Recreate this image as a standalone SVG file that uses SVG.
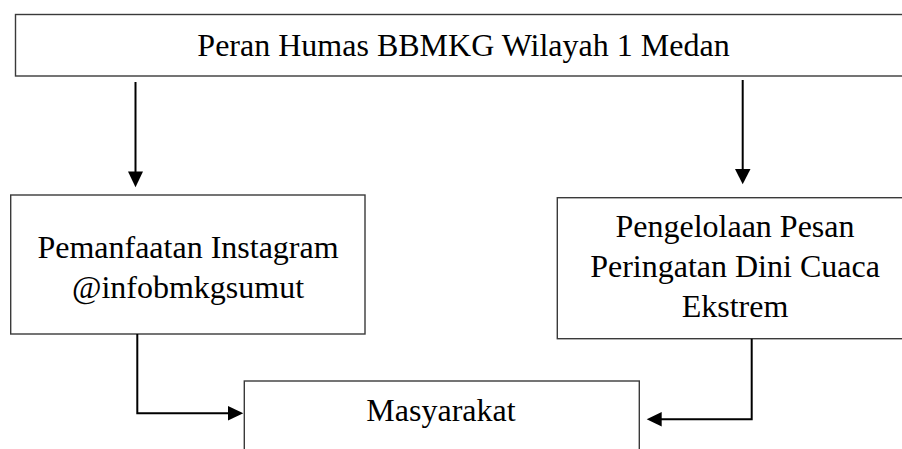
<svg xmlns="http://www.w3.org/2000/svg" width="902" height="449" viewBox="0 0 902 449">
<style>
.box{fill:#fff;stroke:#3a3a3a;stroke-width:1.4}
.t{font-family:"Liberation Serif","Times New Roman",serif;font-size:32px;fill:#000;text-anchor:middle}
.c{fill:none;stroke:#000;stroke-width:2}
</style>
<defs>
<marker id="ah" markerWidth="8" markerHeight="8" refX="8" refY="4" orient="auto" markerUnits="userSpaceOnUse" viewBox="0 0 8 8">
<path d="M0,0 L8,4 L0,8 Z" fill="#000"/>
</marker>
</defs>
<rect width="902" height="449" fill="#fff"/>
<g id="n-top">
<rect class="box" x="15.5" y="14.5" width="900" height="61.5"/>
<text class="t" x="463.5" y="56">Peran Humas BBMKG Wilayah 1 Medan</text>
</g>
<g id="n-instagram">
<rect class="box" x="10.7" y="195" width="354.3" height="139"/>
<text class="t" x="188" y="258">Pemanfaatan Instagram</text>
<text class="t" x="188" y="298">@infobmkgsumut</text>
</g>
<g id="n-pesan">
<rect class="box" x="557.3" y="197.7" width="360" height="141"/>
<text class="t" x="735" y="237">Pengelolaan Pesan</text>
<text class="t" x="735" y="277">Peringatan Dini Cuaca</text>
<text class="t" x="735" y="317">Ekstrem</text>
</g>
<g id="n-masyarakat">
<rect class="box" x="244.3" y="381" width="395" height="80"/>
<text class="t" x="441" y="421">Masyarakat</text>
</g>
<g id="connectors">
<line class="c" x1="135.5" y1="82" x2="135.5" y2="172"/>
<path d="M128,171.5 L143,171.5 L135.5,187.3 Z" fill="#000"/>
<line class="c" x1="742.7" y1="80" x2="742.7" y2="170"/>
<path d="M735,169 L750.5,169 L742.7,184.3 Z" fill="#000"/>
<polyline class="c" points="137.3,334 137.3,413.3 229,413.3"/>
<path d="M228,406 L243.3,413.3 L228,420.6 Z" fill="#000"/>
<polyline class="c" points="751.7,338.7 751.7,419.3 661,419.3"/>
<path d="M661.7,412 L646.7,419.3 L661.7,426.6 Z" fill="#000"/>
</g>
</svg>
